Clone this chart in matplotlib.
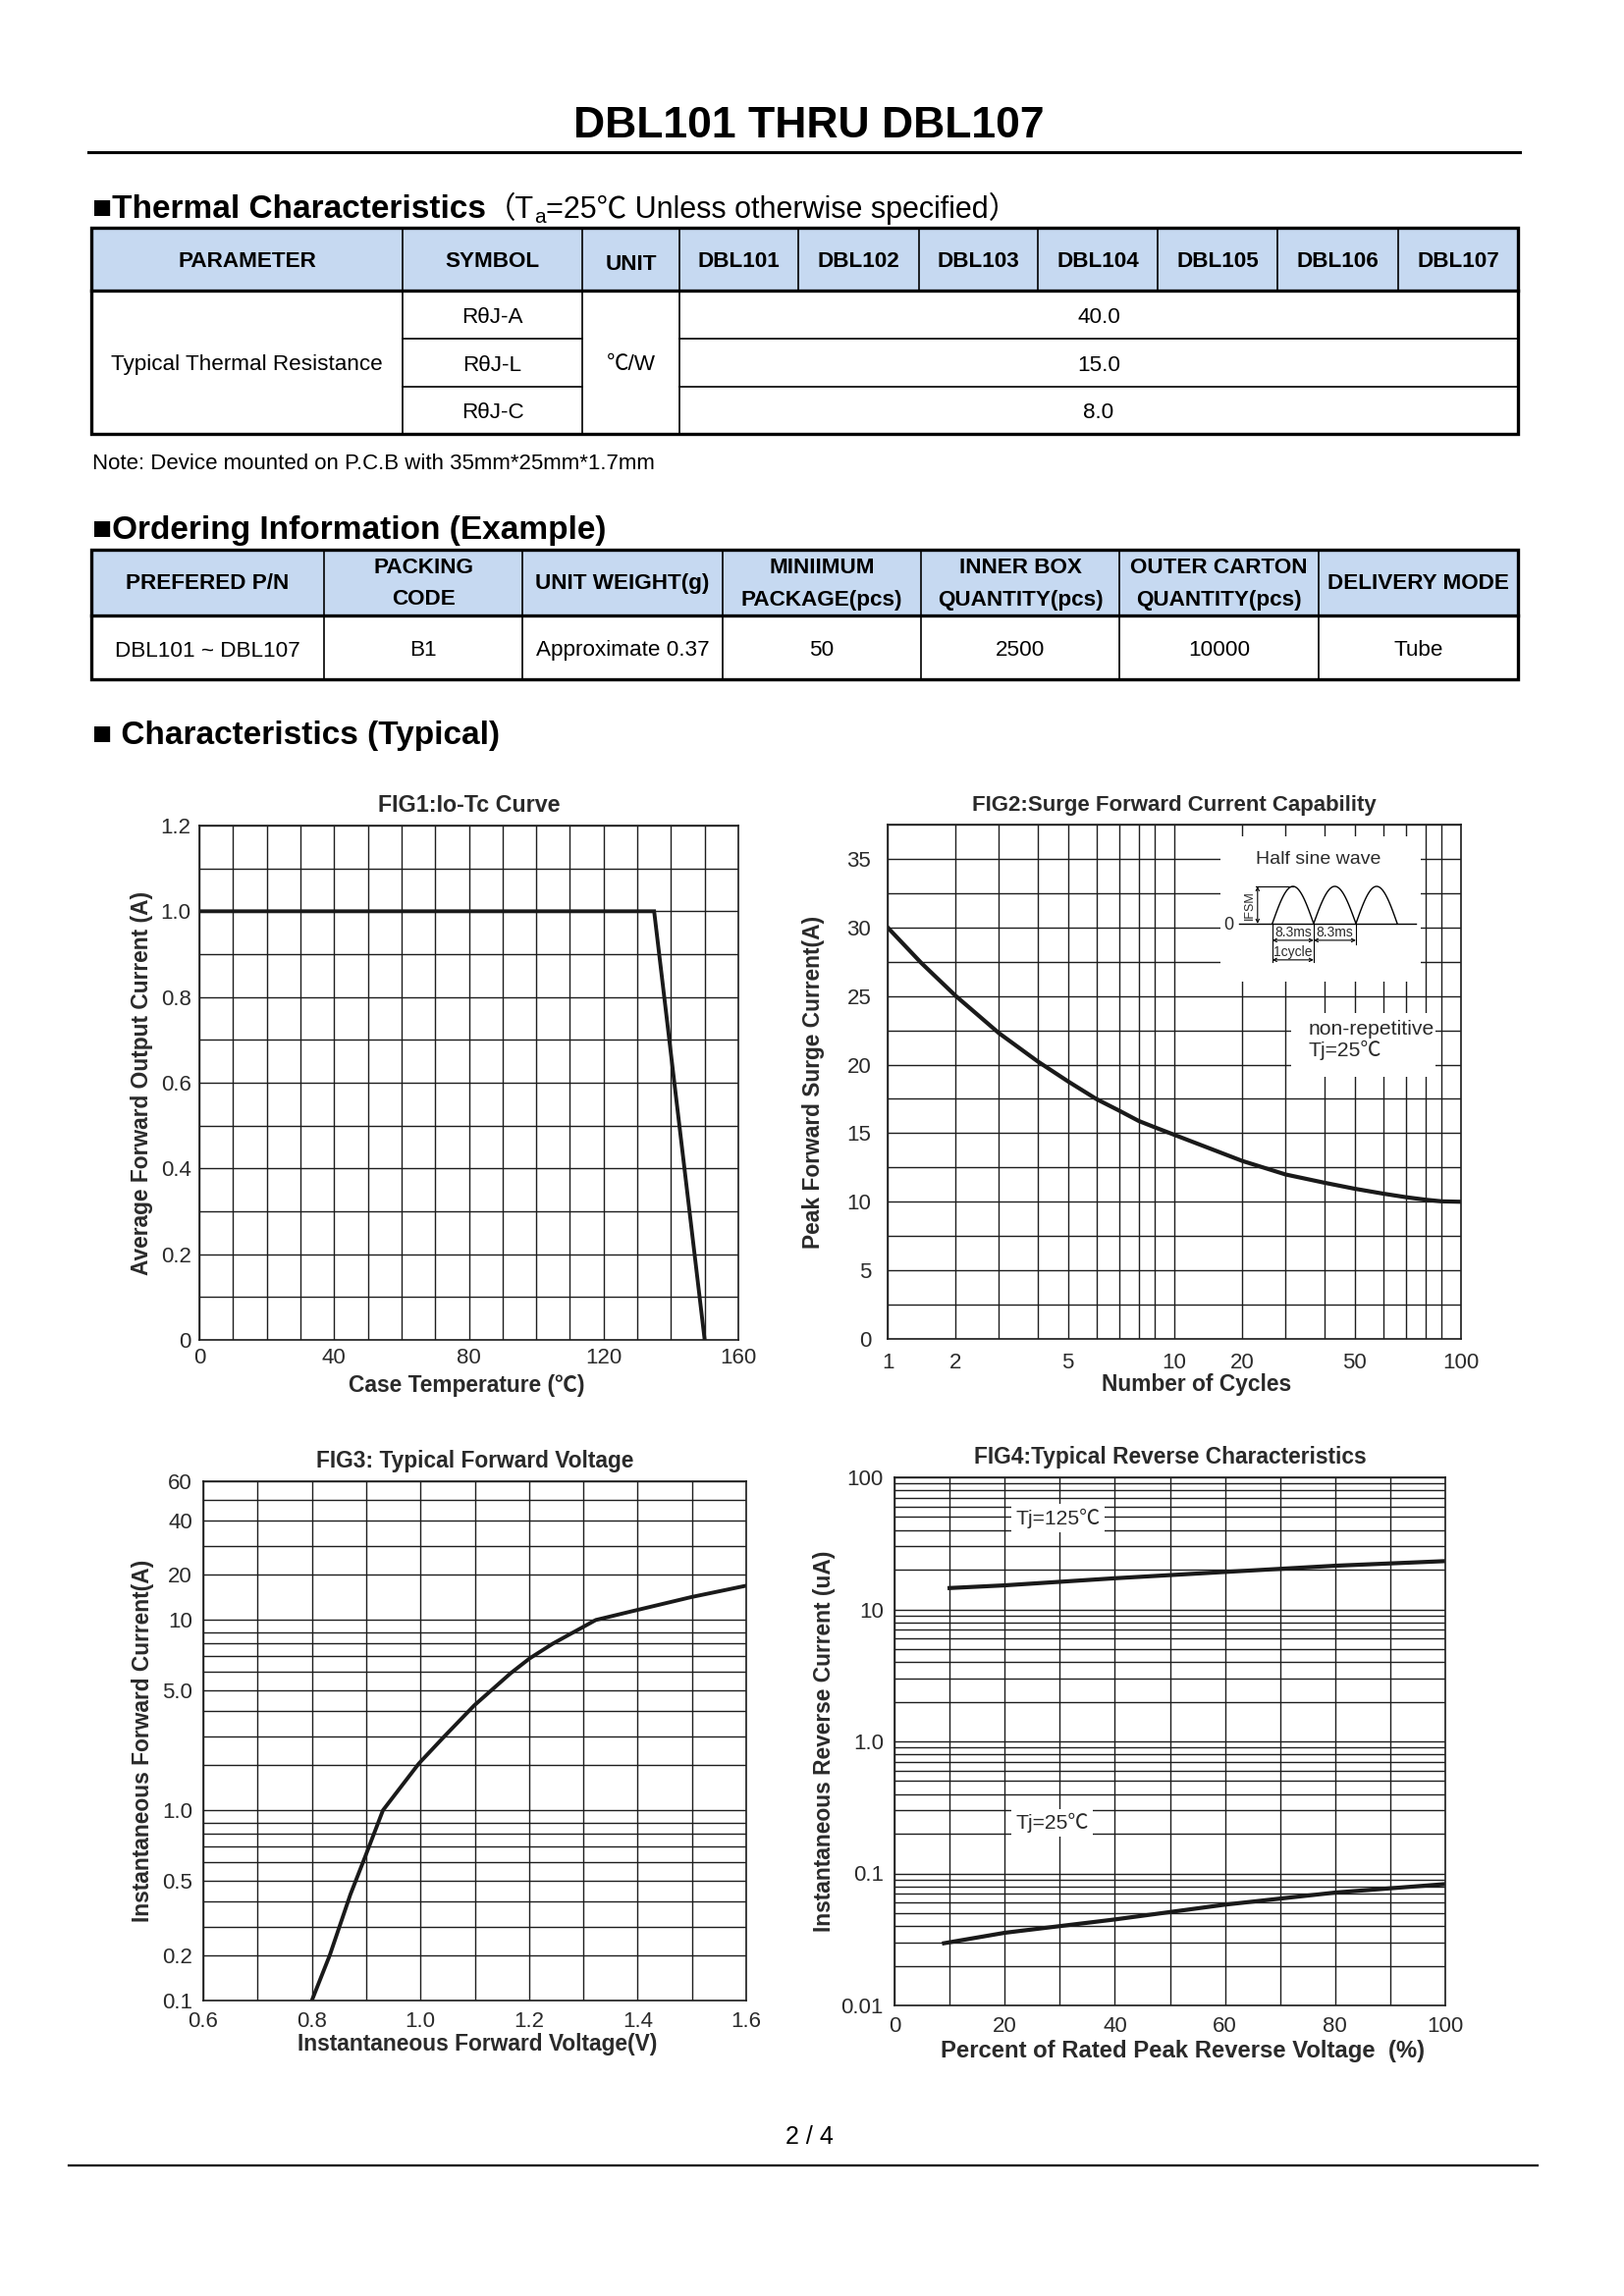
import numpy as np
import matplotlib
matplotlib.use("Agg")
import matplotlib.pyplot as plt
from matplotlib.ticker import FixedLocator, FixedFormatter
from matplotlib.patches import Rectangle

FAM = ['Liberation Sans', 'Noto Sans CJK SC', 'DejaVu Sans']
plt.rcParams['font.family'] = FAM

# ---------------- data ----------------
title_text = "DBL101 THRU DBL107"
thermal_headers = ["PARAMETER", "SYMBOL", "UNIT", "DBL101", "DBL102", "DBL103",
                   "DBL104", "DBL105", "DBL106", "DBL107"]
thermal_param = "Typical Thermal Resistance"
thermal_symbols = ["RθJ-A", "RθJ-L", "RθJ-C"]
thermal_unit = "℃/W"
thermal_values = ["40.0", "15.0", "8.0"]
note_text = "Note: Device mounted on P.C.B with 35mm*25mm*1.7mm"

order_headers = ["PREFERED P/N", "PACKING\nCODE", "UNIT WEIGHT(g)",
                 "MINIIMUM\nPACKAGE(pcs)", "INNER BOX\nQUANTITY(pcs)",
                 "OUTER CARTON\nQUANTITY(pcs)", "DELIVERY MODE"]
order_row = ["DBL101 ~ DBL107", "B1", "Approximate 0.37", "50", "2500", "10000", "Tube"]

# FIG1
fig1_temp = [0, 135, 150]
fig1_current = [1.0, 1.0, 0.0]
fig1_xticks = [0, 40, 80, 120, 160]
fig1_yticks = [0, 0.2, 0.4, 0.6, 0.8, 1.0, 1.2]
fig1_yticklabels = ["0", "0.2", "0.4", "0.6", "0.8", "1.0", "1.2"]

# FIG2
fig2_cycles = [1, 1.41, 2, 2.45, 3, 4, 5, 6, 7, 8, 9, 10, 20, 30, 40, 50, 60, 70, 80, 90, 100]
fig2_ifsm = [30.0, 27.4, 25.0, 23.65, 22.3, 20.24, 18.78, 17.48, 16.63, 15.89, 15.42, 14.88,
             12.97, 11.99, 11.39, 10.95, 10.59, 10.33, 10.15, 10.03, 10.0]
fig2_xticks = [1, 2, 5, 10, 20, 50, 100]
fig2_xgrid = [1, 2, 3, 4, 5, 6, 7, 8, 9, 10, 20, 30, 40, 50, 60, 70, 80, 90, 100]
fig2_yticks = [0, 5, 10, 15, 20, 25, 30, 35]

# FIG3
fig3_vf = [0.80, 0.833, 0.871, 0.898, 0.931, 0.997, 1.044, 1.099, 1.166, 1.201,
           1.244, 1.323, 1.397, 1.499, 1.600]
fig3_if = [0.1, 0.2, 0.43, 0.63, 1.0, 2.04, 3.0, 4.24, 5.9, 6.85, 8.0, 10.0,
           11.6, 14.2, 16.9]
fig3_xticks = [0.6, 0.8, 1.0, 1.2, 1.4, 1.6]
fig3_yticks = [0.1, 0.2, 0.5, 1.0, 5.0, 10, 20, 40, 60]
fig3_yticklabels = ["0.1", "0.2", "0.5", "1.0", "5.0", "10", "20", "40", "60"]
fig3_ygrid = [0.1, 0.2, 0.3, 0.4, 0.5, 0.6, 0.7, 0.8, 0.9, 1, 2, 3, 4, 5, 6, 7, 8, 9,
              10, 20, 30, 40, 50, 60]

# FIG4
fig4_pct125 = [10, 20, 40, 60, 80, 100]
fig4_ir125 = [14.5, 15.2, 17.2, 19.2, 21.4, 23.2]
fig4_pct25 = [9, 20, 40, 60, 80, 100]
fig4_ir25 = [0.0296, 0.0355, 0.0448, 0.058, 0.0716, 0.083]
fig4_xticks = [0, 20, 40, 60, 80, 100]
fig4_yticks = [0.01, 0.1, 1.0, 10, 100]
fig4_yticklabels = ["0.01", "0.1", "1.0", "10", "100"]

# ---------------- figure ----------------
W, H = 1654, 2339
DPI = 200
fig = plt.figure(figsize=(W / DPI, H / DPI), dpi=DPI)
fig.patch.set_facecolor("white")
bg = fig.add_axes([0, 0, 1, 1])
bg.set_xlim(0, W)
bg.set_ylim(H, 0)
bg.axis("off")
renderer = fig.canvas.get_renderer()

PX = DPI / 72.0


def ctext(x, yc, s, size, ha="center", **kw):
    """place text with the centre of its cap height at yc (pixel coords)"""
    return bg.text(x, yc + 0.36 * size * PX, s, fontsize=size, ha=ha, va="baseline", **kw)


def hline(x0, x1, y, lw, color="black"):
    bg.plot([x0, x1], [y, y], color=color, lw=lw, solid_capstyle="projecting")


def vline(x, y0, y1, lw, color="black"):
    bg.plot([x, x], [y0, y1], color=color, lw=lw, solid_capstyle="projecting")


# title + rule
bg.text(824, 140, title_text, fontsize=16, weight="bold", ha="center", va="baseline")
hline(90, 1548, 155, 1.1)

HEAD = 12
# section heading: thermal
t = bg.text(94, 222, "■Thermal Characteristics", fontsize=HEAD, weight="bold",
            va="baseline")
x_end = t.get_window_extent(renderer).x1
t2 = bg.text(x_end, 222, "（T", fontsize=11, va="baseline")
x_end = t2.get_window_extent(renderer).x1
t3 = bg.text(x_end, 227, "a", fontsize=7.5, va="baseline")
x_end = t3.get_window_extent(renderer).x1
bg.text(x_end, 222, "=25℃ Unless otherwise specified）", fontsize=11, va="baseline")

HEADER_BLUE = "#C6D9F1"
LW_OUT = 1.2
LW_IN = 0.6
TS = 8.1

# ---- table 1 ----
T1_COLS = [93, 410, 593, 692, 813, 936, 1057, 1179, 1301, 1424, 1546]
T1_ROWS = [232, 296, 345, 394, 442]
bg.add_patch(Rectangle((T1_COLS[0], T1_ROWS[0]), T1_COLS[-1] - T1_COLS[0],
                       T1_ROWS[1] - T1_ROWS[0], facecolor=HEADER_BLUE, edgecolor="none"))
for i, h in enumerate(thermal_headers):
    xc = (T1_COLS[i] + T1_COLS[i + 1]) / 2
    ctext(xc, (T1_ROWS[0] + T1_ROWS[1]) / 2 + (3 if h == "UNIT" else 0), h, TS, weight="bold")
for x in T1_COLS[1:-1]:
    vline(x, T1_ROWS[0], T1_ROWS[1], LW_IN)
for x in T1_COLS[1:4]:
    vline(x, T1_ROWS[1], T1_ROWS[-1], LW_IN)
for y in T1_ROWS[2:4]:
    hline(T1_COLS[1], T1_COLS[2], y, LW_IN)
    hline(T1_COLS[3], T1_COLS[-1], y, LW_IN)
hline(T1_COLS[0], T1_COLS[-1], T1_ROWS[1], LW_OUT)
bg.add_patch(Rectangle((T1_COLS[0], T1_ROWS[0]), T1_COLS[-1] - T1_COLS[0],
                       T1_ROWS[-1] - T1_ROWS[0], facecolor="none", edgecolor="black", lw=LW_OUT))
body_c = (T1_ROWS[1] + T1_ROWS[-1]) / 2
ctext((T1_COLS[0] + T1_COLS[1]) / 2, body_c, thermal_param, TS)
ctext((T1_COLS[2] + T1_COLS[3]) / 2, body_c, thermal_unit, TS)
for r, (sym, val) in enumerate(zip(thermal_symbols, thermal_values)):
    yc = (T1_ROWS[r + 1] + T1_ROWS[r + 2]) / 2
    ctext((T1_COLS[1] + T1_COLS[2]) / 2, yc, sym, TS)
    ctext((T1_COLS[3] + T1_COLS[-1]) / 2, yc, val, TS)

bg.text(94, 478, note_text, fontsize=8.0, va="baseline")

# ---- table 2 ----
bg.text(94, 549, "■Ordering Information (Example)", fontsize=HEAD, weight="bold",
        va="baseline")
T2_COLS = [93, 330, 532, 736, 938, 1140, 1343, 1546]
T2_ROWS = [560, 627, 692]
bg.add_patch(Rectangle((T2_COLS[0], T2_ROWS[0]), T2_COLS[-1] - T2_COLS[0],
                       T2_ROWS[1] - T2_ROWS[0], facecolor=HEADER_BLUE, edgecolor="none"))
hc = (T2_ROWS[0] + T2_ROWS[1]) / 2
dc = (T2_ROWS[1] + T2_ROWS[2]) / 2
for i, head in enumerate(order_headers):
    xc = (T2_COLS[i] + T2_COLS[i + 1]) / 2
    bg.text(xc, hc + 1, head, fontsize=TS, weight="bold", ha="center", va="center",
            multialignment="center", linespacing=1.75)
    ctext(xc, dc + (1 if i == 0 else 0), order_row[i], TS)
for x in T2_COLS[1:-1]:
    vline(x, T2_ROWS[0], T2_ROWS[-1], LW_IN)
hline(T2_COLS[0], T2_COLS[-1], T2_ROWS[1], LW_OUT)
bg.add_patch(Rectangle((T2_COLS[0], T2_ROWS[0]), T2_COLS[-1] - T2_COLS[0],
                       T2_ROWS[-1] - T2_ROWS[0], facecolor="none", edgecolor="black", lw=LW_OUT))

bg.text(94, 758, "■ Characteristics (Typical)", fontsize=HEAD, weight="bold", va="baseline")

# footer
bg.text(824, 2184, "2 / 4", fontsize=9, ha="center", va="baseline")
hline(70, 1566, 2206, 0.8)

# ---------------- charts ----------------
GRID = "#1e1e1e"
TXT = "#2a2a2a"
CURVE = "#1a1a1a"

# scale of the printed semi-log paper (position of 1..10 inside one decade)
PAPER_LOGM = np.log10(np.arange(1, 11))
PAPER_FRAC = np.array([0, 0.238, 0.388, 0.523, 0.629, 0.729, 0.809, 0.876, 0.933, 1.0])


def paper_fwd(v):
    v = np.asarray(v, dtype=float)
    l = np.log10(np.where(v > 0, v, 1e-12))
    d = np.floor(l + 1e-12)
    return d + np.interp(l - d, PAPER_LOGM, PAPER_FRAC)


def paper_inv(u):
    u = np.asarray(u, dtype=float)
    d = np.floor(u + 1e-12)
    return 10 ** (d + np.interp(u - d, PAPER_FRAC, PAPER_LOGM))


def ax_at(l, t, r, b):
    return fig.add_axes([l / W, 1 - b / H, (r - l) / W, (b - t) / H])


def style(ax, xpad, ypad):
    ax.set_axisbelow(True)
    ax.grid(True, which="both", color=GRID, lw=0.5)
    ax.tick_params(which="both", length=0, labelsize=8, labelcolor=TXT)
    ax.tick_params(axis="x", pad=xpad)
    ax.tick_params(axis="y", pad=ypad)
    for s in ax.spines.values():
        s.set_linewidth(0.6)
        s.set_color(GRID)


def labels(ax, title, xl, yl, xlc, ylc, tpad=5, tsize=8.2):
    ax.set_title(title, fontsize=tsize, weight="bold", color=TXT, pad=tpad)
    ax.set_xlabel(xl, fontsize=8.2, weight="bold", color=TXT)
    ax.set_ylabel(yl, fontsize=8.2, weight="bold", color=TXT)
    ax.xaxis.set_label_coords(*xlc)
    ax.yaxis.set_label_coords(*ylc)
    ax.xaxis.label.set_va("center")
    ax.yaxis.label.set_va("center")


# FIG1
ax1 = ax_at(203, 841, 752, 1365)
ax1.plot(fig1_temp, fig1_current, color=CURVE, lw=1.4, solid_joinstyle="miter")
ax1.set_xlim(0, 160)
ax1.set_ylim(0, 1.2)
ax1.xaxis.set_major_locator(FixedLocator(fig1_xticks))
ax1.xaxis.set_minor_locator(FixedLocator(np.arange(0, 161, 10)))
ax1.yaxis.set_major_locator(FixedLocator(fig1_yticks))
ax1.yaxis.set_major_formatter(FixedFormatter(fig1_yticklabels))
ax1.yaxis.set_minor_locator(FixedLocator(np.arange(0, 1.21, 0.1)))
style(ax1, 3, 3)
labels(ax1, "FIG1:Io-Tc Curve", "Case Temperature (℃)", "Average Forward Output Current (A)",
       (0.495, -0.088), (-0.106, 0.5), tsize=8.4)

# FIG2
ax2 = ax_at(904, 840, 1488, 1364)
ax2.set_xscale("function", functions=(paper_fwd, paper_inv))
ax2.plot(fig2_cycles, fig2_ifsm, color=CURVE, lw=1.5)
ax2.set_xlim(1, 100)
ax2.set_ylim(0, 37.5)
ax2.xaxis.set_major_locator(FixedLocator(fig2_xticks))
ax2.xaxis.set_major_formatter(FixedFormatter([str(v) for v in fig2_xticks]))
ax2.xaxis.set_minor_locator(FixedLocator(fig2_xgrid))
ax2.xaxis.set_minor_formatter(FixedFormatter([""] * len(fig2_xgrid)))
ax2.yaxis.set_major_locator(FixedLocator(fig2_yticks))
ax2.yaxis.set_minor_locator(FixedLocator(np.arange(0, 37.6, 2.5)))
style(ax2, 5, 6)
labels(ax2, "FIG2:Surge Forward Current Capability", "Number of Cycles",
       "Peak Forward Surge Current(A)", (0.539, -0.088), (-0.130, 0.5), tsize=8.0)
ax2.add_patch(Rectangle((0.704, 0.510), 0.251, 0.124, transform=ax2.transAxes,
                        facecolor="white", edgecolor="none", zorder=1))
ax2.text(0.733, 0.603, "non-repetitive", transform=ax2.transAxes, fontsize=7.6,
         color=TXT, va="center", zorder=3)
ax2.text(0.733, 0.561, "Tj=25℃", transform=ax2.transAxes, fontsize=7.6,
         color=TXT, va="center", zorder=3)

# half-sine inset (decoration, drawn in its own pixel-like frame)
ins = ax2.inset_axes([0.580, 0.695, 0.350, 0.282])
ins.set_xlim(1243, 1447)
ins.set_ylim(1000, 852)
ins.axis("off")
ins.add_patch(Rectangle((1243, 852), 204, 148, facecolor="white", edgecolor="none"))
ins.text(1343, 875, "Half sine wave", fontsize=7, color=TXT, ha="center", va="center")
ins.plot([1262, 1442], [941, 941], color="black", lw=0.5)
ins.text(1252, 943, "0", fontsize=6.5, color=TXT, ha="center", va="center")
for a, b in [(1296, 1338), (1338, 1381), (1381, 1423)]:
    xs = np.linspace(a, b, 60)
    ins.plot(xs, 941 - 38 * np.sin(np.pi * (xs - a) / (b - a)), color="black", lw=0.5)
ins.plot([1279, 1317], [903, 903], color="black", lw=0.4)
ins.annotate("", xy=(1281, 903), xytext=(1281, 941),
             arrowprops=dict(arrowstyle="<->", lw=0.4, color="black",
                             shrinkA=0, shrinkB=0, mutation_scale=3))
ins.text(1273, 922, "IFSM", fontsize=4.5, rotation=90, ha="center", va="center", color=TXT)
ins.plot([1296, 1296], [941, 980], color="black", lw=0.4)
ins.plot([1338, 1338], [941, 980], color="black", lw=0.4)
ins.plot([1381, 1381], [941, 962], color="black", lw=0.4)
for a, b in [(1296, 1338), (1338, 1381)]:
    ins.annotate("", xy=(a, 958), xytext=(b, 958),
                 arrowprops=dict(arrowstyle="<->", lw=0.4, color="black",
                                 shrinkA=0, shrinkB=0, mutation_scale=3))
    ins.text((a + b) / 2, 950, "8.3ms", fontsize=5, ha="center", va="center", color=TXT)
ins.annotate("", xy=(1296, 978), xytext=(1338, 978),
             arrowprops=dict(arrowstyle="<->", lw=0.4, color="black",
                             shrinkA=0, shrinkB=0, mutation_scale=3))
ins.text(1317, 970, "1cycle", fontsize=5, ha="center", va="center", color=TXT)

# FIG3
ax3 = ax_at(207, 1509, 760, 2038)
ax3.set_yscale("function", functions=(paper_fwd, paper_inv))
ax3.plot(fig3_vf, fig3_if, color=CURVE, lw=1.4)
ax3.set_xlim(0.6, 1.6)
ax3.set_ylim(0.1, 60)
ax3.xaxis.set_major_locator(FixedLocator(fig3_xticks))
ax3.xaxis.set_major_formatter(FixedFormatter([f"{v:.1f}" for v in fig3_xticks]))
ax3.xaxis.set_minor_locator(FixedLocator(np.round(np.arange(0.6, 1.61, 0.1), 2)))
ax3.yaxis.set_major_locator(FixedLocator(fig3_yticks))
ax3.yaxis.set_major_formatter(FixedFormatter(fig3_yticklabels))
ax3.yaxis.set_minor_locator(FixedLocator(fig3_ygrid))
ax3.yaxis.set_minor_formatter(FixedFormatter([""] * len(fig3_ygrid)))
style(ax3, 4, 4)
labels(ax3, "FIG3: Typical Forward Voltage", "Instantaneous Forward Voltage(V)",
       "Instantaneous Forward Current(A)", (0.505, -0.085), (-0.112, 0.5), tsize=8.2)

# FIG4
ax4 = ax_at(911, 1505, 1472, 2043)
ax4.set_yscale("log")
ax4.plot(fig4_pct125, fig4_ir125, color=CURVE, lw=1.5)
ax4.plot(fig4_pct25, fig4_ir25, color=CURVE, lw=1.5)
ax4.set_xlim(0, 100)
ax4.set_ylim(0.01, 100)
ax4.xaxis.set_major_locator(FixedLocator(fig4_xticks))
ax4.xaxis.set_minor_locator(FixedLocator(np.arange(0, 101, 10)))
ax4.yaxis.set_major_locator(FixedLocator(fig4_yticks))
ax4.yaxis.set_major_formatter(FixedFormatter(fig4_yticklabels))
minor4 = [m * 10.0 ** e for e in range(-2, 2) for m in range(1, 10)]
ax4.yaxis.set_minor_locator(FixedLocator(minor4))
ax4.yaxis.set_minor_formatter(FixedFormatter([""] * len(minor4)))
style(ax4, 4, 4)
labels(ax4, "FIG4:Typical Reverse Characteristics",
       "Percent of Rated Peak Reverse Voltage  (%)",
       "Instantaneous Reverse Current (uA)", (0.524, -0.087), (-0.128, 0.5), tsize=8.2)
ax4.xaxis.label.set_fontsize(8.6)
ax4.text(22, 49, "Tj=125℃", fontsize=7.6, color=TXT, va="center", zorder=3,
         bbox=dict(facecolor="white", edgecolor="none", pad=1.5))
ax4.text(22, 0.242, "Tj=25℃", fontsize=7.6, color=TXT, va="center", zorder=3,
         bbox=dict(facecolor="white", edgecolor="none", pad=1.5))

fig.savefig("out.png", dpi=DPI, facecolor="white")
